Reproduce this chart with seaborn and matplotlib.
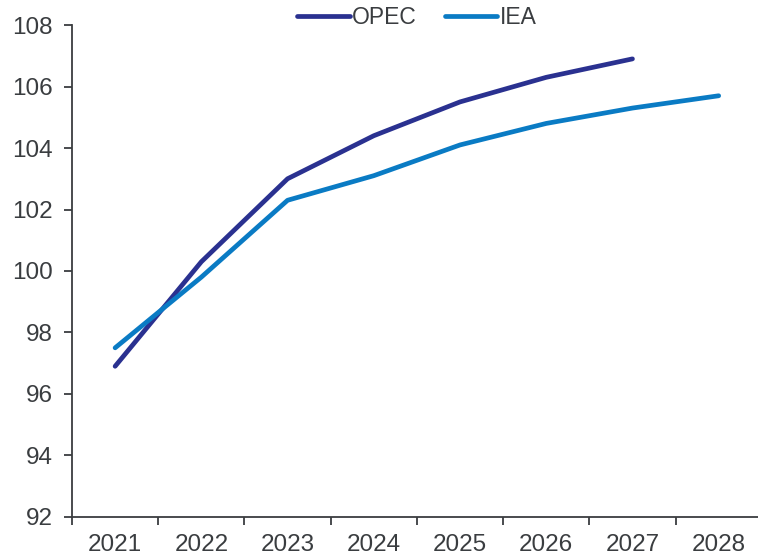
import numpy as np
import pandas as pd
import matplotlib
matplotlib.use("Agg")
import matplotlib.pyplot as plt
import seaborn as sns

years = ["2021", "2022", "2023", "2024", "2025", "2026", "2027", "2028"]
opec = [96.9, 100.3, 103.0, 104.4, 105.5, 106.3, 106.9, np.nan]
iea = [97.5, 99.8, 102.3, 103.1, 104.1, 104.8, 105.3, 105.7]

df = pd.DataFrame({"year": years * 2,
                   "value": opec + iea,
                   "source": ["OPEC"] * len(years) + ["IEA"] * len(years)})
df["x"] = list(range(len(years))) * 2

sns.set_style("white")
plt.rcParams["font.family"] = ["Liberation Sans", "DejaVu Sans"]
text_color = "#3a3d40"
fs = 17.5

fig = plt.figure(figsize=(7.58, 5.57), dpi=100)
ax = fig.add_axes([0.095, 0.072, 0.91, 0.883])

sns.lineplot(data=df.dropna(), x="x", y="value", hue="source",
             palette={"OPEC": "#2a3190", "IEA": "#0a7bc4"},
             linewidth=3.4, ax=ax, solid_capstyle="round")

ax.set_xlim(-0.5, 7.5)
ax.set_ylim(92, 108)
ax.set_yticks(range(92, 109, 2))
ax.set_xticks(range(len(years)))
ax.set_xticklabels(years)
ax.set_xticks(np.arange(-0.5, 7.6, 1), minor=True)
ax.tick_params(bottom=True, left=True, which="both")
ax.tick_params(axis="x", which="major", length=0, pad=12, labelsize=fs, colors=text_color)
ax.tick_params(axis="x", which="minor", length=6, width=1.3, color=text_color, direction="out")
ax.tick_params(axis="y", length=6, width=1.3, color=text_color, labelsize=fs, pad=8,
               labelcolor=text_color, direction="out")
ax.set_xlabel("")
ax.set_ylabel("")

for side in ["top", "right"]:
    ax.spines[side].set_visible(False)
for side in ["left", "bottom"]:
    ax.spines[side].set_color(text_color)
    ax.spines[side].set_linewidth(1.3)

leg = ax.legend(loc="upper center", bbox_to_anchor=(0.5, 1.08), ncol=2, frameon=False,
                fontsize=16.5, handlelength=2.3, handletextpad=0.1, columnspacing=1.2)
for t in leg.get_texts():
    t.set_color(text_color)

fig.savefig("out.png", dpi=100)
